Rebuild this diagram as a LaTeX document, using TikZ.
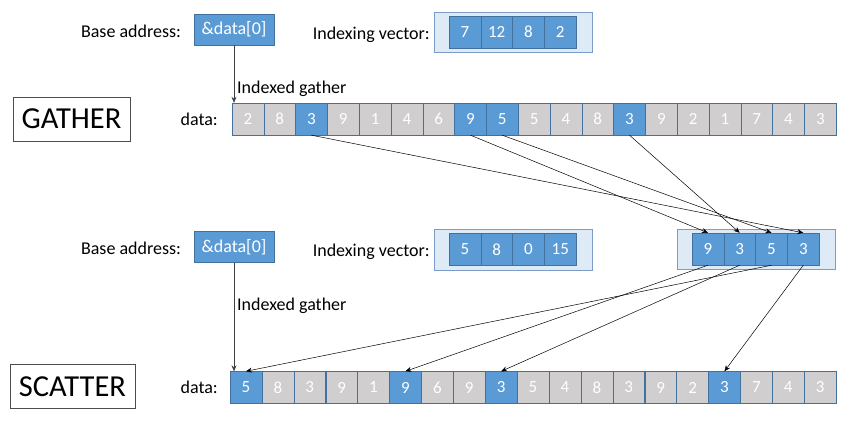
\documentclass[tikz,border=0pt]{standalone}
\usepackage{fontspec}
\setmainfont{Carlito}
\usetikzlibrary{arrows.meta}

\definecolor{cellblue}{HTML}{5B9BD5}
\definecolor{cellline}{HTML}{41719C}
\definecolor{cellgray}{HTML}{D0CECE}
\definecolor{boxpale}{HTML}{DEEBF7}
\definecolor{boxline}{HTML}{7A9CC6}

\tikzset{
    cell/.style={draw=cellline, fill=cellgray, text=white, minimum width=31.8pt, minimum height=32pt, inner sep=0pt, font=\fontsize{17}{17}\selectfont},
    hot/.style={cell, fill=cellblue},
    addrbox/.style={draw=cellline, fill=cellblue, text=white, minimum width=80pt, minimum height=31pt, inner sep=0pt, font=\fontsize{18}{18}\selectfont},
    holder/.style={draw=boxline, fill=boxpale},
    lbl/.style={font=\fontsize{18}{18}\selectfont, inner sep=0pt},
    title/.style={draw=black!70, minimum height=44pt, inner sep=0pt, font=\fontsize{30.5}{30.5}\selectfont},
    link/.style={-{Stealth[length=6pt,width=5pt]}, line width=0.5pt}
}

\begin{document}
\begin{tikzpicture}[x=1pt, y=-1pt]
            \useasboundingbox (0, 0) rectangle (851, 424);

            % gather part
            \node[lbl] (baseg) at (131, 31) {Base address:};
            \node[addrbox] (addrg) at (234, 29.5) {\&data[0]};
            \node[lbl, anchor=east] (idxg) at (430, 35) {Indexing vector:};
            \draw[holder] (434, 12) rectangle (592, 52);
            \node[hot] (gi1) at (464.9, 32) {7};
            \node[hot] (gi2) at (496.7, 32) {12};
            \node[hot] (gi3) at (528.5, 32) {8};
            \node[hot] (gi4) at (560.3, 32) {2};

            \node[title, minimum width=117pt] (gather) at (71.5, 119) {GATHER};
            \node[lbl, anchor=east] (datag) at (218, 119) {data:};
            \foreach \v [count=\i from 0] in {2,8,3,9,1,4,6,9,5,5,4,8,3,9,2,1,7,4,3} {
                \node[cell] (g\i) at (247.9 + 31.8*\i, 119) {\v};
            }
            \node[hot] at (g2) {3};
            \node[hot] at (g7) {9};
            \node[hot] at (g8) {5};
            \node[hot] at (g12) {3};

            \draw[link, black!75] (addrg.south) -- (addrg.south |- g0.north);
            \node[lbl, anchor=west] (gtxt) at (237, 89) {Indexed gather};

            % gathered vector
            \draw[holder] (677, 229) rectangle (835, 269);
            \node[hot] (gr1) at (707.9, 249) {9};
            \node[hot] (gr2) at (739.7, 249) {3};
            \node[hot] (gr3) at (771.5, 249) {5};
            \node[hot] (gr4) at (803.3, 249) {3};

            \draw[link] (g7.south) -- (gr1.north);
            \draw[link] (g12.south) -- (gr2.north);
            \draw[link] (g8.south) -- (gr3.north);
            \draw[link] (g2.south) -- (gr4.north);

            % scatter part
            \node[lbl] (bases) at (131, 248) {Base address:};
            \node[addrbox] (addrs) at (234, 247) {\&data[0]};
            \node[lbl, anchor=east] (idxs) at (430, 252) {Indexing vector:};
            \draw[holder] (434, 229) rectangle (592, 270);
            \node[hot] (si1) at (464.9, 249.5) {5};
            \node[hot] (si2) at (496.7, 249.5) {8};
            \node[hot] (si3) at (528.5, 249.5) {0};
            \node[hot] (si4) at (560.3, 249.5) {15};

            \node[title, minimum width=125pt] (scatter) at (72.5, 386.5) {SCATTER};
            \node[lbl, anchor=east] (datas) at (218, 387) {data:};
            \foreach \v [count=\i from 0] in {5,8,3,9,1,9,6,9,3,5,4,8,3,9,2,3,7,4,3} {
                \node[cell] (s\i) at (245.95 + 31.9*\i, 387.5) {\v};
            }
            \node[hot] at (s0) {5};
            \node[hot] at (s5) {9};
            \node[hot] at (s8) {3};
            \node[hot] at (s15) {3};

            \draw[link, black!75] (addrs.south) -- (addrs.south |- s0.north);
            \node[lbl, anchor=west] (stxt) at (237, 306) {Indexed gather};

            \draw[link] (gr1.south) -- (s5.north);
            \draw[link] (gr2.south) -- (s8.north);
            \draw[link] (gr3.south) -- (s0.north);
            \draw[link] (gr4.south) -- (s15.north);
        \end{tikzpicture}
\end{document}
